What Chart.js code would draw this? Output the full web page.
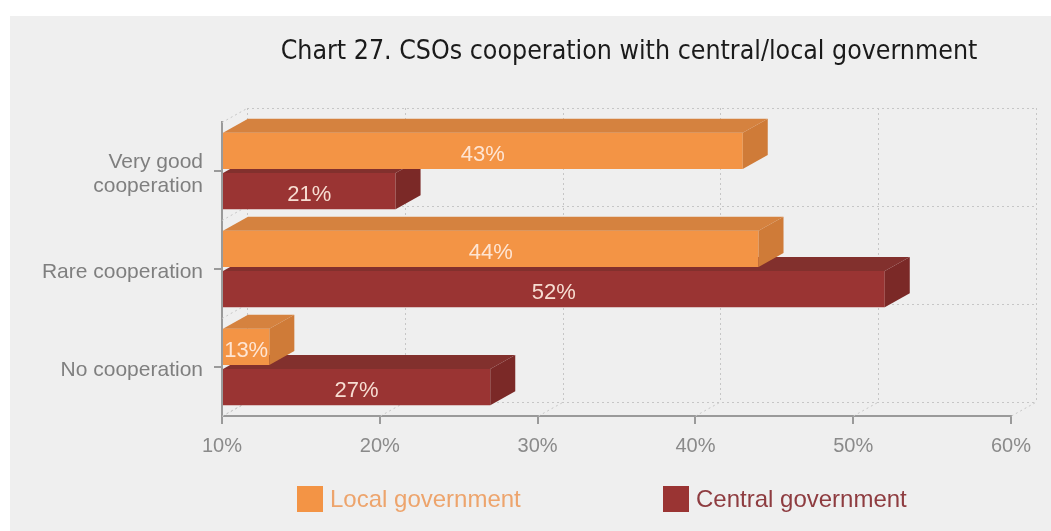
<!DOCTYPE html>
<html>
<head>
<meta charset="utf-8">
<script src="https://cdn.jsdelivr.net/npm/chart.js@4.4.1/dist/chart.umd.min.js"></script>
<style>
    html, body { margin: 0; background: #fff; }
    #ramka { position: absolute; left: 10px; top: 16px; width: 1041px; height: 515px; background: #efefef; }
</style>
</head>
<body>
<div id="ramka"><canvas id="barChart" width="1041" height="515"></canvas></div>
<script>
const tytul = 'Chart 27. CSOs cooperation with central/local government';
const kategorie = [['Very good', 'cooperation'], 'Rare cooperation', 'No cooperation'];
const serie = ['Local government', 'Central government'];
const lokalne = [43, 44, 13];
const centralne = [21, 52, 27];
const osX = [10, 20, 30, 40, 50, 60];

const fontOs = '"Liberation Sans", Arial, sans-serif';
const DX = 25, DY = 14; // glebokosc 3d

const kolory = {
    front: ['#f39445', '#9a3433'],
    gora: ['#d5823f', '#82302d'],
    bok: ['#cf7b38', '#7b2927'],
    legenda: ['#eda46c', '#8e3c40']
};

function linia(ctx, x1, y1, x2, y2) {
    ctx.beginPath();
    ctx.moveTo(x1, y1);
    ctx.lineTo(x2, y2);
    ctx.stroke();
}

// tylna sciana, podloga, sciany boczne + tytul i legenda
const efekt3d = {
    id: 'efekt3d',
    beforeDatasetsDraw(chart) {
        const ctx = chart.ctx, a = chart.chartArea;
        const sx = chart.scales.x, sy = chart.scales.y;
        ctx.save();
        ctx.strokeStyle = '#c6c6c6';
        ctx.lineWidth = 1;
        ctx.setLineDash([2, 3]);
        osX.forEach(v => {
            const px = Math.round(sx.getPixelForValue(v)) + 0.5;
            linia(ctx, px + DX, a.top - DY, px + DX, a.bottom - DY);
            linia(ctx, px, a.bottom, px + DX, a.bottom - DY);
        });
        for (let k = 0; k <= kategorie.length; k++) {
            const py = Math.round(sy.getPixelForValue(k - 0.5)) + 0.5;
            linia(ctx, a.left + DX, py - DY, a.right + DX, py - DY);
            linia(ctx, a.left, py, a.left + DX, py - DY);
        }
        ctx.restore();
    },
    afterDatasetDraw(chart, args) {
        const i = args.index;
        const ctx = chart.ctx;
        const dane = chart.data.datasets[i].data;
        ctx.save();
        args.meta.data.forEach((bar, j) => {
            const { x, y, base, height } = bar.getProps(['x', 'y', 'base', 'height'], true);
            const g = y - height / 2, d = y + height / 2;
            // gorna sciana
            ctx.fillStyle = kolory.gora[i];
            ctx.beginPath();
            ctx.moveTo(base, g);
            ctx.lineTo(base + DX, g - DY);
            ctx.lineTo(x + DX, g - DY);
            ctx.lineTo(x, g);
            ctx.closePath();
            ctx.fill();
            // bok
            ctx.fillStyle = kolory.bok[i];
            ctx.beginPath();
            ctx.moveTo(x, g);
            ctx.lineTo(x + DX, g - DY);
            ctx.lineTo(x + DX, d - DY);
            ctx.lineTo(x, d);
            ctx.closePath();
            ctx.fill();
            // etykieta
            ctx.fillStyle = 'rgba(255, 236, 224, 0.92)';
            ctx.font = '22px ' + fontOs;
            ctx.textAlign = 'center';
            ctx.textBaseline = 'middle';
            ctx.fillText(dane[j] + '%', (base + x) / 2, y + 4);
        });
        ctx.restore();
    },
    afterDraw(chart) {
        const ctx = chart.ctx, a = chart.chartArea;
        ctx.save();
        ctx.fillStyle = '#1b1b1b';
        ctx.font = '26.5px "Liberation Sans Narrow", "DejaVu Sans Condensed", "Open Sans", sans-serif';
        ctx.textAlign = 'center';
        ctx.textBaseline = 'middle';
        ctx.fillText(tytul, (a.left + a.right + DX) / 2, 36);

        // legenda
        const pozycje = [287, 653];
        ctx.font = '24px ' + fontOs;
        ctx.textAlign = 'left';
        serie.forEach((s, i) => {
            ctx.fillStyle = kolory.front[i];
            ctx.fillRect(pozycje[i], 470, 26, 26);
            ctx.fillStyle = kolory.legenda[i];
            ctx.fillText(s, pozycje[i] + 33, 484);
        });
        ctx.restore();
    }
};

function wykres3d() {
    const ctx = document.getElementById('barChart').getContext('2d');
    new Chart(ctx, {
        type: 'bar',
        data: {
            labels: kategorie,
            datasets: [{
                label: serie[0],
                data: lokalne,
                base: 10,
                backgroundColor: kolory.front[0]
            }, {
                label: serie[1],
                data: centralne,
                base: 10,
                backgroundColor: kolory.front[1]
            }]
        },
        options: {
            indexAxis: 'y',
            responsive: false,
            animation: false,
            categoryPercentage: 0.82,
            barPercentage: 0.9,
            layout: { padding: { top: 106, right: 40, bottom: 54, left: 0 } },
            plugins: {
                legend: { display: false },
                title: { display: false },
                tooltip: { enabled: false }
            },
            scales: {
                x: {
                    min: 10,
                    max: 60,
                    ticks: {
                        stepSize: 10,
                        callback: v => v + '%',
                        color: '#8a8a8a',
                        font: { size: 20, family: fontOs },
                        padding: 10
                    },
                    grid: { drawOnChartArea: false, tickLength: 8, color: '#9a9a9a', lineWidth: 2 },
                    border: { color: '#9a9a9a', width: 2 },
                    afterFit(s) { s.height = 61; }
                },
                y: {
                    ticks: {
                        color: '#7f7f7f',
                        font: { size: 21, family: fontOs, lineHeight: 1.14 },
                        padding: 11,
                        labelOffset: 3
                    },
                    grid: { offset: false, drawOnChartArea: false, tickLength: 8, color: '#9a9a9a', lineWidth: 2 },
                    border: { color: '#9a9a9a', width: 2 },
                    afterFit(s) { s.width = 212; }
                }
            }
        },
        plugins: [efekt3d]
    });
}

wykres3d();
</script>
</body>
</html>
